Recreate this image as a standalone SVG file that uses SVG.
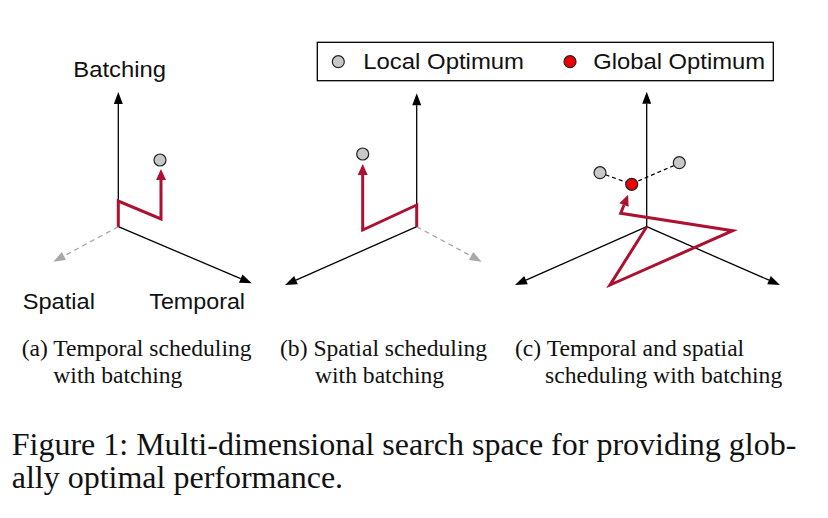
<svg xmlns="http://www.w3.org/2000/svg" width="828" height="518" viewBox="0 0 828 518">
<style>
.ax{stroke:#000;stroke-width:1.3;fill:none}
.dash{stroke:#a8a8a8;stroke-width:1.3;fill:none;stroke-dasharray:5 4}
.red{stroke:#ad1131;stroke-width:3;fill:none;stroke-linejoin:miter}
.loc{fill:#c8c8c8;stroke:#222;stroke-width:1.2}
.glo{fill:#ee0000;stroke:#222;stroke-width:1.2}
.lnk{stroke:#000;stroke-width:1.2;stroke-dasharray:4 3;fill:none}
.sans{font-family:"Liberation Sans",Arial,sans-serif;font-size:21.5px;fill:#111}
.serif{font-family:"Liberation Serif","Times New Roman",serif;fill:#111}
.cap{font-size:23.6px}
.fig{font-size:32px}
</style>
<defs>
<marker id="ah" markerUnits="userSpaceOnUse" markerWidth="12" markerHeight="9" refX="0" refY="4.5" orient="auto" overflow="visible"><path d="M0,0 L12,4.5 L0,9 z" fill="#000"/></marker>
<marker id="ahg" markerUnits="userSpaceOnUse" markerWidth="12" markerHeight="9" refX="0" refY="4.5" orient="auto" overflow="visible"><path d="M0,0 L12,4.5 L0,9 z" fill="#a8a8a8"/></marker>
<marker id="ahr" markerUnits="userSpaceOnUse" markerWidth="11" markerHeight="10" refX="0" refY="5" orient="auto" overflow="visible"><path d="M0,0 L11,5 L0,10 z" fill="#ad1131"/></marker>
</defs>

<g id="connectors">
<!-- panel a -->
<line class="ax" x1="118.3" y1="226.7" x2="118.3" y2="104" marker-end="url(#ah)"/>
<line class="ax" x1="118.3" y1="226.7" x2="240.7" y2="278.6" marker-end="url(#ah)"/>
<line class="dash" x1="118.3" y1="226.7" x2="63.9" y2="256" marker-end="url(#ahg)"/>
<polyline class="red" points="118.3,226.7 118.3,201 161,219 161,180" marker-end="url(#ahr)"/>
<!-- panel b -->
<line class="ax" x1="416.7" y1="226.7" x2="416.7" y2="105.3" marker-end="url(#ah)"/>
<line class="ax" x1="416.7" y1="226.7" x2="296" y2="280.1" marker-end="url(#ah)"/>
<line class="dash" x1="416.7" y1="226.7" x2="471.1" y2="256" marker-end="url(#ahg)"/>
<polyline class="red" points="416.7,226.7 416.7,205 362.7,230 362.7,175" marker-end="url(#ahr)"/>
<!-- panel c -->
<line class="ax" x1="646.7" y1="226.7" x2="646.7" y2="103.7" marker-end="url(#ah)"/>
<line class="ax" x1="646.7" y1="226.7" x2="526" y2="280.1" marker-end="url(#ah)"/>
<line class="ax" x1="646.7" y1="226.7" x2="769" y2="280.2" marker-end="url(#ah)"/>
<polyline class="red" points="646.7,226.7 610,285 732.7,230.7 620.7,213.3 624,205" marker-end="url(#ahr)"/>
<line class="lnk" x1="605.5" y1="174.8" x2="626.2" y2="182.2"/>
<line class="lnk" x1="674" y1="165.5" x2="637" y2="181.5"/>
</g>

<g id="node-a-local">
<circle class="loc" cx="160" cy="160" r="6"/>
</g>
<g id="node-b-local">
<circle class="loc" cx="362.7" cy="154" r="6"/>
</g>
<g id="node-c-local1">
<circle class="loc" cx="600" cy="172.7" r="6"/>
</g>
<g id="node-c-local2">
<circle class="loc" cx="679.3" cy="162.7" r="6"/>
</g>
<g id="node-c-global">
<circle class="glo" cx="631.7" cy="184.3" r="6"/>
</g>

<g id="axis-labels">
<text class="sans" x="73.3" y="76.7" textLength="92.7" lengthAdjust="spacingAndGlyphs">Batching</text>
<text class="sans" x="22.7" y="309.3" textLength="72.3" lengthAdjust="spacingAndGlyphs">Spatial</text>
<text class="sans" x="149.3" y="309.3" textLength="95.7" lengthAdjust="spacingAndGlyphs">Temporal</text>
</g>

<g id="legend">
<rect x="317.3" y="42.3" width="456" height="38.4" fill="#fff" stroke="#000" stroke-width="1.3"/>
<circle class="loc" cx="338.3" cy="61.7" r="6"/>
<text class="sans" x="363.3" y="69.3" textLength="160.7" lengthAdjust="spacingAndGlyphs">Local Optimum</text>
<circle class="glo" cx="570" cy="61.7" r="6"/>
<text class="sans" x="593.3" y="69.3" textLength="171.7" lengthAdjust="spacingAndGlyphs">Global Optimum</text>
</g>

<g id="captions">
<text class="serif cap" x="21.7" y="356">(a) Temporal scheduling</text>
<text class="serif cap" x="53.3" y="382.7">with batching</text>
<text class="serif cap" x="280" y="356">(b) Spatial scheduling</text>
<text class="serif cap" x="315" y="382.7">with batching</text>
<text class="serif cap" x="515" y="356">(c) Temporal and spatial</text>
<text class="serif cap" x="545" y="382.7">scheduling with batching</text>
<text class="serif fig" x="11.7" y="455">Figure 1: Multi-dimensional search space for providing glob-</text>
<text class="serif fig" x="11.7" y="488.3">ally optimal performance.</text>
</g>
</svg>
